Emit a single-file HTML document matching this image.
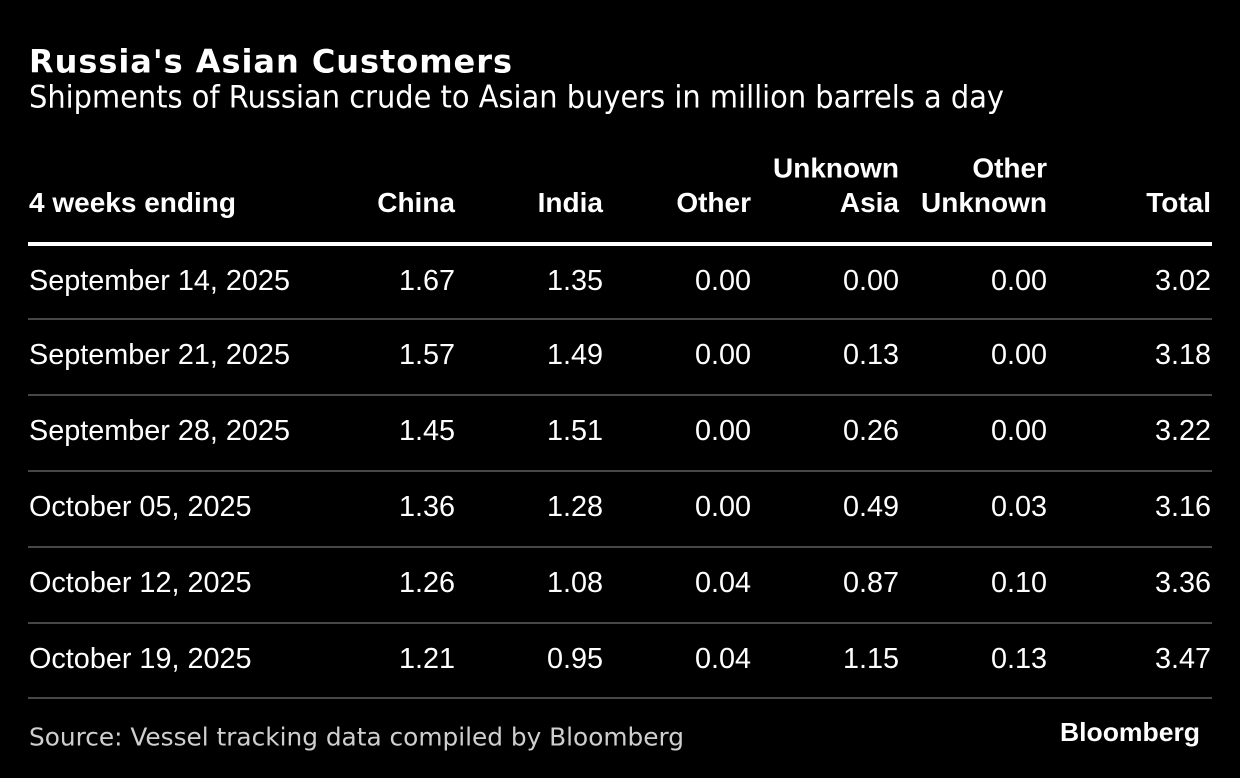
<!DOCTYPE html>
<html>
<head>
<meta charset="utf-8">
<style>
  html, body { margin: 0; padding: 0; background: #000; }
  svg { display: block; }
  .hd { font-family: "Liberation Sans", Arial, sans-serif; font-weight: bold; font-size: 28px; fill: #fff; }
  .bd { font-family: "Liberation Sans", Arial, sans-serif; font-size: 28.8px; fill: #fff; }
  .r { text-anchor: end; }
</style>
</head>
<body>
<svg width="1240" height="778" viewBox="0 0 1240 778" xmlns="http://www.w3.org/2000/svg">
  <rect x="0" y="0" width="1240" height="778" fill="#000"/>

  <text x="29" y="72.5" font-family="DejaVu Sans, Verdana, sans-serif" font-weight="bold" font-size="32" fill="#fff" textLength="483" lengthAdjust="spacing">Russia's Asian Customers</text>
  <text x="29" y="107.5" font-family="DejaVu Sans, Verdana, sans-serif" font-size="31" fill="#fff" textLength="975" lengthAdjust="spacingAndGlyphs">Shipments of Russian crude to Asian buyers in million barrels a day</text>

  <!-- header -->
  <text class="hd" x="29" y="212">4 weeks ending</text>
  <text class="hd r" x="455" y="212">China</text>
  <text class="hd r" x="603" y="212">India</text>
  <text class="hd r" x="751" y="212">Other</text>
  <text class="hd r" x="899" y="177.5">Unknown</text>
  <text class="hd r" x="899" y="212">Asia</text>
  <text class="hd r" x="1047" y="177.5">Other</text>
  <text class="hd r" x="1047" y="212">Unknown</text>
  <text class="hd r" x="1211" y="212">Total</text>

  <rect x="28" y="242" width="1184" height="4" fill="#fff"/>

  <!-- row lines -->
  <rect x="28" y="318" width="1184" height="2" fill="#474747"/>
  <rect x="28" y="394" width="1184" height="2" fill="#474747"/>
  <rect x="28" y="470" width="1184" height="2" fill="#474747"/>
  <rect x="28" y="546" width="1184" height="2" fill="#474747"/>
  <rect x="28" y="622" width="1184" height="2" fill="#474747"/>
  <rect x="28" y="697" width="1184" height="2" fill="#474747"/>

  <!-- row 1 -->
  <text class="bd" x="29" y="290">September 14, 2025</text>
  <text class="bd r" x="455" y="290">1.67</text>
  <text class="bd r" x="603" y="290">1.35</text>
  <text class="bd r" x="751" y="290">0.00</text>
  <text class="bd r" x="899" y="290">0.00</text>
  <text class="bd r" x="1047" y="290">0.00</text>
  <text class="bd r" x="1211" y="290">3.02</text>

  <!-- row 2 -->
  <text class="bd" x="29" y="364">September 21, 2025</text>
  <text class="bd r" x="455" y="364">1.57</text>
  <text class="bd r" x="603" y="364">1.49</text>
  <text class="bd r" x="751" y="364">0.00</text>
  <text class="bd r" x="899" y="364">0.13</text>
  <text class="bd r" x="1047" y="364">0.00</text>
  <text class="bd r" x="1211" y="364">3.18</text>

  <!-- row 3 -->
  <text class="bd" x="29" y="440">September 28, 2025</text>
  <text class="bd r" x="455" y="440">1.45</text>
  <text class="bd r" x="603" y="440">1.51</text>
  <text class="bd r" x="751" y="440">0.00</text>
  <text class="bd r" x="899" y="440">0.26</text>
  <text class="bd r" x="1047" y="440">0.00</text>
  <text class="bd r" x="1211" y="440">3.22</text>

  <!-- row 4 -->
  <text class="bd" x="29" y="516">October 05, 2025</text>
  <text class="bd r" x="455" y="516">1.36</text>
  <text class="bd r" x="603" y="516">1.28</text>
  <text class="bd r" x="751" y="516">0.00</text>
  <text class="bd r" x="899" y="516">0.49</text>
  <text class="bd r" x="1047" y="516">0.03</text>
  <text class="bd r" x="1211" y="516">3.16</text>

  <!-- row 5 -->
  <text class="bd" x="29" y="592">October 12, 2025</text>
  <text class="bd r" x="455" y="592">1.26</text>
  <text class="bd r" x="603" y="592">1.08</text>
  <text class="bd r" x="751" y="592">0.04</text>
  <text class="bd r" x="899" y="592">0.87</text>
  <text class="bd r" x="1047" y="592">0.10</text>
  <text class="bd r" x="1211" y="592">3.36</text>

  <!-- row 6 -->
  <text class="bd" x="29" y="668">October 19, 2025</text>
  <text class="bd r" x="455" y="668">1.21</text>
  <text class="bd r" x="603" y="668">0.95</text>
  <text class="bd r" x="751" y="668">0.04</text>
  <text class="bd r" x="899" y="668">1.15</text>
  <text class="bd r" x="1047" y="668">0.13</text>
  <text class="bd r" x="1211" y="668">3.47</text>

  <!-- footer -->
  <text x="29" y="745.5" font-family="DejaVu Sans, Verdana, sans-serif" font-size="25" fill="#cfcfcf" textLength="655" lengthAdjust="spacingAndGlyphs">Source: Vessel tracking data compiled by Bloomberg</text>
  <text x="1060" y="741" font-family="Liberation Sans, Arial, sans-serif" font-weight="bold" font-size="26" fill="#fff" textLength="140" lengthAdjust="spacingAndGlyphs">Bloomberg</text>
</svg>
</body>
</html>
